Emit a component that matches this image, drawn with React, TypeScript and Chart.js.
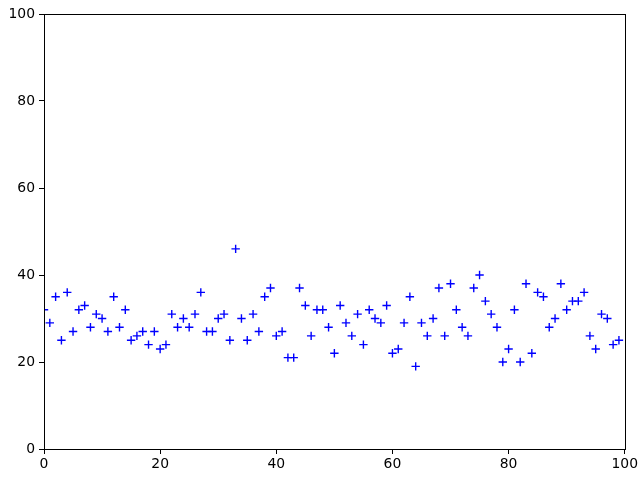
import React, { useEffect, useRef } from "react";
import { Chart, registerables } from "chart.js";

Chart.register(...registerables);

const xValues: number[] = Array.from({ length: 100 }, (_, i) => i);
const yValues: number[] = [
  32, 29, 35, 25, 36, 27, 32, 33, 28, 31,
  30, 27, 35, 28, 32, 25, 26, 27, 24, 27,
  23, 24, 31, 28, 30, 28, 31, 36, 27, 27,
  30, 31, 25, 46, 30, 25, 31, 27, 35, 37,
  26, 27, 21, 21, 37, 33, 26, 32, 32, 28,
  22, 33, 29, 26, 31, 24, 32, 30, 29, 33,
  22, 23, 29, 35, 19, 29, 26, 30, 37, 26,
  38, 32, 28, 26, 37, 40, 34, 31, 28, 20,
  23, 32, 20, 38, 22, 36, 35, 28, 30, 38,
  32, 34, 34, 36, 26, 23, 31, 30, 24, 25,
];
const xTicks: number[] = [0, 20, 40, 60, 80, 100];
const yTicks: number[] = [0, 20, 40, 60, 80, 100];

const framePlugin = {
  id: "frame",
  afterDraw(chart: any) {
    const { ctx, chartArea } = chart;
    ctx.save();
    ctx.strokeStyle = "#000";
    ctx.lineWidth = 1;
    ctx.strokeRect(
      Math.round(chartArea.left) + 0.5,
      Math.round(chartArea.top) + 0.5,
      Math.round(chartArea.right - chartArea.left),
      Math.round(chartArea.bottom - chartArea.top)
    );
    ctx.restore();
  },
};

export default function App() {
  const ref = useRef<HTMLCanvasElement | null>(null);
  useEffect(() => {
    document.body.style.margin = "0";
    const canvas = ref.current!;
    const font = { family: "DejaVu Sans", size: 13.9 };
    const chart = new Chart(canvas, {
      type: "scatter",
      data: {
        datasets: [
          {
            data: xValues.map((x, i) => ({ x, y: yValues[i] })),
            pointStyle: "cross",
            pointRadius: 4.2,
            pointHoverRadius: 4.2,
            pointBorderWidth: 1.4,
            borderColor: "#0000ff",
            backgroundColor: "#0000ff",
            clip: 0,
          } as any,
        ],
      },
      options: {
        responsive: false,
        animation: false,
        events: [],
        layout: { padding: { left: 0, right: 15, top: 14, bottom: 0 } },
        plugins: { legend: { display: false }, tooltip: { enabled: false } },
        scales: {
          x: {
            type: "linear",
            min: 0,
            max: 100,
            afterBuildTicks: (s: any) => {
              s.ticks = xTicks.map((v) => ({ value: v }));
            },
            afterFit: (s: any) => {
              s.height = 31;
            },
            grid: { drawOnChartArea: false, drawTicks: true, tickLength: 5, color: "#000" },
            border: { color: "#000", width: 1 },
            ticks: { color: "#000", font, padding: 2, maxRotation: 0 },
          },
          y: {
            type: "linear",
            min: 0,
            max: 100,
            afterBuildTicks: (s: any) => {
              s.ticks = yTicks.map((v) => ({ value: v }));
            },
            afterFit: (s: any) => {
              s.width = 44;
            },
            grid: { drawOnChartArea: false, drawTicks: true, tickLength: 5, color: "#000" },
            border: { color: "#000", width: 1 },
            ticks: { color: "#000", font, padding: 4 },
          },
        },
      },
      plugins: [framePlugin],
    });
    return () => chart.destroy();
  }, []);
  return (
    <div style={{ position: "absolute", left: 0, top: 0, width: 640, height: 480, background: "#fff" }}>
      <canvas ref={ref} width={640} height={480} />
    </div>
  );
}
